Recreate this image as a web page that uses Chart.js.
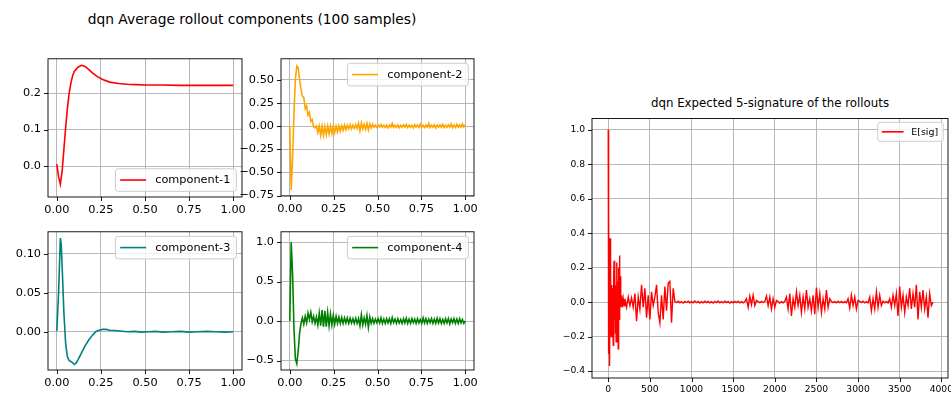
<!DOCTYPE html>
<html>
<head>
<meta charset="utf-8">
<script src="https://cdn.jsdelivr.net/npm/chart.js@4.4.0/dist/chart.umd.min.js"></script>
<style>
  body { margin: 0; background: #fff; width: 951px; height: 394px; position: relative; overflow: hidden; font-family: "DejaVu Sans", sans-serif; }
  canvas { position: absolute; }
  .ttl { position: absolute; text-align: center; color: #000; white-space: nowrap; }
  #suptitle { left: 0; width: 504px; top: 11px; font-size: 13.8px; line-height: 16px; }
  #sigtitle { left: 592px; width: 356px; top: 96px; font-size: 11.8px; line-height: 14px; }
</style>
</head>
<body>
<div id="suptitle" class="ttl">dqn Average rollout components (100 samples)</div>
<div id="sigtitle" class="ttl">dqn Expected 5-signature of the rollouts</div>
<canvas id="c1"></canvas>
<canvas id="c2"></canvas>
<canvas id="c3"></canvas>
<canvas id="c4"></canvas>
<canvas id="c5"></canvas>
<script>
// ---- data ----
const compTicksX = [0, 0.25, 0.5, 0.75, 1.0];

const c1X = [0, 0.01, 0.02, 0.03, 0.04, 0.05, 0.06, 0.07, 0.08, 0.09, 0.10, 0.12, 0.14, 0.16, 0.18, 0.20, 0.23, 0.26, 0.30, 0.35, 0.40, 0.45, 0.50, 0.60, 0.70, 0.80, 0.90, 1.00];
const c1Y = [0.005, -0.03, -0.05, -0.015, 0.045, 0.105, 0.158, 0.2, 0.228, 0.248, 0.26, 0.271, 0.276, 0.273, 0.265, 0.256, 0.245, 0.237, 0.23, 0.226, 0.224, 0.223, 0.222, 0.222, 0.221, 0.221, 0.221, 0.221];

// component-2 and component-4 sampled every 0.008
const c2Y = [
  0, -0.69, -0.35, 0.15, 0.5, 0.65, 0.63, 0.5, 0.4, 0.32,
  0.31, 0.19, 0.22, 0.12, 0.15, 0.05, 0.07, -0.01, -0.02, 0.0,
  -0.07, 0.0, -0.1, 0.0, -0.1, -0.005, -0.09, 0.0, -0.085, 0.0,
  -0.08, 0.005, -0.07, 0.0, -0.065, 0.005, -0.055, 0.005, -0.045, 0.01,
  -0.04, 0.01, -0.03, 0.015, -0.03, 0.01, -0.025, 0.015, -0.025, 0.03,
  -0.05, 0.035, -0.03, 0.02, -0.035, 0.03, -0.04, 0.025, -0.02, 0.02,
  -0.012, 0.01, -0.015, 0.012, -0.01, 0.018, -0.012, 0.01, -0.015, 0.012,
  -0.02, 0.012, -0.01, 0.03, -0.012, 0.01, -0.015, 0.012, -0.018, 0.01,
  -0.012, 0.015, -0.01, 0.02, -0.015, 0.012, -0.012, 0.01, -0.02, 0.015,
  -0.01, 0.012, -0.015, 0.02, -0.012, 0.01, -0.015, 0.012, -0.01, 0.03,
  -0.015, 0.01, -0.012, 0.015, -0.02, 0.012, -0.01, 0.015, -0.012, 0.02,
  -0.015, 0.01, -0.012, 0.015, -0.01, 0.025, -0.015, 0.012, -0.012, 0.02,
  -0.01, 0.015, -0.012, 0.025, -0.008, 0.015
];

const c3X = [0, 0.01, 0.02, 0.025, 0.03, 0.04, 0.05, 0.06, 0.07, 0.08, 0.09, 0.10, 0.11, 0.12, 0.14, 0.16, 0.18, 0.20, 0.22, 0.24, 0.26, 0.28, 0.30, 0.33, 0.36, 0.40, 0.44, 0.48, 0.52, 0.56, 0.60, 0.65, 0.70, 0.75, 0.80, 0.85, 0.90, 0.95, 1.00];
const c3Y = [0.001, 0.05, 0.12, 0.112, 0.085, 0.025, -0.015, -0.032, -0.037, -0.038, -0.04, -0.042, -0.04, -0.036, -0.027, -0.018, -0.011, -0.005, 0.0, 0.002, 0.003, 0.003, 0.002, 0.0015, 0.001, 0.0, 0.0005, -0.0005, 0.0, 0.0005, -0.0005, 0.0, 0.0005, -0.0005, 0.0, 0.0005, 0.0, -0.0005, 0.0];

const c4Y = [
  0, 1.0, 0.6, -0.1, -0.48, -0.54, -0.38, -0.15, -0.03, 0.04,
  -0.04, 0.06, -0.02, 0.1, 0.02, 0.11, -0.01, 0.06, -0.03, 0.05,
  -0.05, 0.1, -0.06, 0.14, -0.07, 0.13, -0.07, 0.11, -0.06, 0.09,
  -0.05, 0.07, -0.04, 0.06, -0.03, 0.05, -0.03, 0.045, -0.03, 0.04,
  -0.025, 0.04, -0.03, 0.035, -0.025, 0.03, -0.03, 0.035, -0.03, 0.03,
  -0.06, 0.08, -0.05, 0.04, -0.04, 0.07, -0.08, 0.05, -0.03, 0.03,
  -0.03, 0.025, -0.02, 0.03, -0.025, 0.04, -0.03, 0.025, -0.03, 0.03,
  -0.025, 0.03, -0.03, 0.045, -0.02, 0.025, -0.03, 0.03, -0.025, 0.02,
  -0.03, 0.03, -0.025, 0.035, -0.03, 0.025, -0.03, 0.03, -0.02, 0.025,
  -0.03, 0.03, -0.025, 0.02, -0.03, 0.04, -0.025, 0.03, -0.03, 0.025,
  -0.02, 0.03, -0.03, 0.025, -0.03, 0.035, -0.025, 0.03, -0.03, 0.02,
  -0.03, 0.03, -0.025, 0.03, -0.035, 0.025, -0.02, 0.03, -0.03, 0.025,
  -0.03, 0.03, -0.025, 0.02, -0.03, 0.0
];

// expected signature: fine samples at the start, then every 20 terms
const sigEarlyX = [0, 3, 6, 10, 14, 18, 22, 26, 30, 35, 40, 45, 50, 55, 60, 65, 70, 75, 80, 85, 90, 95, 100, 105, 110, 115, 120, 125, 130, 135, 140, 145, 150, 160, 170, 180, 190];
const sigEarlyY = [1.0, -0.3, 0.5, -0.12, 0.3, -0.37, 0.37, -0.1, 0.2, -0.2, 0.1, -0.15, 0.08, -0.05, -0.25, 0.15, 0.24, -0.1, 0.2, -0.18, 0.1, -0.23, 0.05, 0.23, -0.15, 0.12, -0.27, 0.2, -0.1, 0.27, -0.05, 0.15, -0.03, 0.04, -0.03, 0.02, -0.02];
const sigLateY = [
  0.02, -0.03, 0.03, -0.02, 0.025, -0.03,
  0.05, -0.11, 0.03, -0.04, 0.1, -0.03, 0.08, -0.09, 0.04, -0.1, 0.06, -0.02, 0.03,
  0.1, -0.06, -0.12, 0.04, -0.1, 0.09, -0.05, 0.11, 0.12, -0.12, 0.08,
  0.004, -0.003, 0.005, -0.004, 0.003, -0.005, 0.004, -0.002, 0.005, -0.004,
  0.003, -0.004, 0.006, -0.003, 0.004, -0.005, 0.003, -0.004, 0.005, -0.003,
  0.004, -0.004, 0.003, -0.005, 0.004, -0.003, 0.006, -0.004, 0.003, -0.004,
  0.005, -0.003, 0.004, -0.005, 0.003, -0.004, 0.004, -0.003, 0.005, -0.004,
  0.003, -0.004, 0.004,
  0.02, -0.03, 0.035, -0.015, 0.04, -0.02, 0.01,
  0.003, -0.003, 0.004, -0.002, 0.003,
  0.035, -0.02, 0.03, -0.04, 0.02, -0.03, 0.01,
  0.004, -0.005, 0.003, -0.004, 0.005,
  0.03, -0.04, 0.05, -0.08, 0.02, -0.03, 0.06, -0.02, 0.04, -0.06,
  0.03, -0.04, 0.07, -0.03, 0.02, -0.05, 0.04, -0.07, 0.085, -0.03,
  0.05, -0.06, 0.02, -0.04, 0.07, -0.03, 0.02,
  0.004, -0.003, 0.003, -0.004, 0.005, -0.003, 0.004, -0.004, 0.003, -0.003,
  0.02, -0.035, 0.04, -0.02, 0.03, -0.04, 0.01,
  0.004, -0.003, 0.005, -0.004, 0.003, -0.004,
  0.03, -0.05, 0.02, -0.04, 0.06, -0.03, 0.04, -0.02,
  0.005, -0.004, 0.004, -0.005,
  0.02, -0.03, 0.04, -0.02, 0.05, -0.08, 0.09, -0.03, 0.04, -0.06,
  0.03, -0.02, 0.08, -0.04, 0.05, -0.03, 0.1, -0.1, 0.06, -0.03,
  0.07, -0.04, 0.03, -0.09, 0.05, -0.02, 0.0
];
const sigTicksX = [0, 500, 1000, 1500, 2000, 2500, 3000, 3500, 4000];
const sigTicksY = [-0.4, -0.2, 0.0, 0.2, 0.4, 0.6, 0.8, 1.0];

// sample positions
const noisyX = c2Y.map((_, i) => +(i * 0.008).toFixed(3));
const sigX = sigEarlyX.concat(sigLateY.map((_, i) => 200 + 20 * i));
const sigY = sigEarlyY.concat(sigLateY);

// ---- drawing ----
const fmt = d => v => (v < 0 ? '\u2212' : '') + Math.abs(v).toFixed(d);

// matplotlib-like frame, outward tick marks and an in-axes legend
const mplFrame = {
  id: 'mplFrame',
  afterDraw(chart, args, o) {
    const { ctx, chartArea: a, scales } = chart;
    ctx.save();
    ctx.strokeStyle = '#000';
    ctx.lineWidth = 0.9;
    ctx.strokeRect(a.left, a.top, a.right - a.left, a.bottom - a.top);
    ctx.beginPath();
    scales.x.ticks.forEach(t => {
      const px = Math.round(scales.x.getPixelForValue(t.value)) + 0.5;
      ctx.moveTo(px, a.bottom); ctx.lineTo(px, a.bottom + 4);
    });
    scales.y.ticks.forEach(t => {
      const py = Math.round(scales.y.getPixelForValue(t.value)) + 0.5;
      ctx.moveTo(a.left, py); ctx.lineTo(a.left - 4, py);
    });
    ctx.stroke();

    const ds = chart.data.datasets[0];
    const f = o.fs;
    ctx.font = f + 'px "DejaVu Sans"';
    const tw = ctx.measureText(ds.label).width;
    const bw = 0.42 * f + 2.3 * f + 0.8 * f + tw + 0.53 * f;
    const bh = 2.0 * f;
    const bx = a.right - 0.5 * f - bw;
    const by = o.loc === 'lower' ? a.bottom - 0.5 * f - bh : a.top + 0.4 * f;
    ctx.beginPath();
    ctx.roundRect(bx, by, bw, bh, 0.25 * f);
    ctx.fillStyle = 'rgba(255,255,255,0.8)';
    ctx.fill();
    ctx.strokeStyle = '#cccccc';
    ctx.lineWidth = 1;
    ctx.stroke();
    const my = by + bh / 2;
    ctx.beginPath();
    ctx.moveTo(bx + 0.42 * f, my);
    ctx.lineTo(bx + 2.72 * f, my);
    ctx.strokeStyle = ds.borderColor;
    ctx.lineWidth = 1.6;
    ctx.stroke();
    ctx.fillStyle = '#000';
    ctx.textBaseline = 'middle';
    ctx.fillText(ds.label, bx + 3.52 * f, my + 0.5);
    ctx.restore();
  }
};

function panel(id, box, cfg) {
  const PT = 8, PR = 14;
  const cv = document.getElementById(id);
  const L = box.l - cfg.yw, T = box.t - PT;
  const W = box.r - L + PR, H = box.b - T + cfg.xh;
  cv.width = W; cv.height = H;
  cv.style.left = L + 'px'; cv.style.top = T + 'px';
  cv.style.width = W + 'px'; cv.style.height = H + 'px';
  const tickFont = { family: 'DejaVu Sans', size: cfg.fs };
  const grid = { color: '#b0b0b0', lineWidth: 0.9, drawTicks: false };
  new Chart(cv, {
    type: 'line',
    data: {
      datasets: [{
        label: cfg.label,
        data: cfg.xs.map((x, i) => ({ x: x, y: cfg.ys[i] })),
        borderColor: cfg.color,
        borderWidth: cfg.lw || 1.6,
        pointRadius: 0,
        tension: 0,
        fill: false
      }]
    },
    options: {
      responsive: false,
      animation: false,
      layout: { padding: { top: PT, right: PR, left: 0, bottom: 0 } },
      plugins: {
        legend: { display: false },
        tooltip: { enabled: false },
        mplFrame: { fs: cfg.lfs, loc: cfg.loc }
      },
      scales: {
        x: {
          type: 'linear', min: cfg.xr[0], max: cfg.xr[1],
          grid: grid, border: { display: false },
          afterBuildTicks: s => { s.ticks = cfg.xt.map(v => ({ value: v })); },
          afterFit: s => { s.height = cfg.xh; },
          ticks: { padding: 6, color: '#000', font: tickFont, maxRotation: 0, autoSkip: false, callback: fmt(cfg.xd) }
        },
        y: {
          type: 'linear', min: cfg.yr[0], max: cfg.yr[1],
          grid: grid, border: { display: false },
          afterBuildTicks: s => { s.ticks = cfg.yt.map(v => ({ value: v })); },
          afterFit: s => { s.width = cfg.yw; },
          ticks: { padding: 7, color: '#000', font: tickFont, autoSkip: false, callback: fmt(cfg.yd) }
        }
      }
    },
    plugins: [mplFrame]
  });
}

const small = { yw: 48, xh: 24, fs: 11.3, lfs: 11.3, xt: compTicksX, xd: 2, xr: [-0.05, 1.05] };

panel('c1', { l: 48, t: 53, r: 242, b: 197 }, Object.assign({}, small, {
  label: 'component-1', color: '#ff0000', xs: c1X, ys: c1Y, loc: 'lower',
  yr: [-0.085, 0.294], yt: [0.0, 0.1, 0.2], yd: 1
}));
panel('c2', { l: 281, t: 53, r: 474, b: 196 }, Object.assign({}, small, {
  yw: 44, label: 'component-2', color: '#ffa500', xs: noisyX, ys: c2Y, loc: 'upper',
  yr: [-0.755, 0.728], yt: [-0.75, -0.5, -0.25, 0.0, 0.25, 0.5], yd: 2
}));
panel('c3', { l: 48, t: 226, r: 242, b: 370 }, Object.assign({}, small, {
  label: 'component-3', color: '#008080', xs: c3X, ys: c3Y, loc: 'upper',
  yr: [-0.049, 0.128], yt: [0.0, 0.05, 0.1], yd: 2
}));
panel('c4', { l: 281, t: 226, r: 474, b: 370 }, Object.assign({}, small, {
  yw: 44, label: 'component-4', color: '#008000', xs: noisyX, ys: c4Y, loc: 'upper',
  yr: [-0.62, 1.13], yt: [-0.5, 0.0, 0.5, 1.0], yd: 1
}));
panel('c5', { l: 592, t: 114, r: 948, b: 378 }, {
  yw: 45, xh: 20, fs: 9.2, lfs: 9.5, label: 'E[sig]', color: '#ff0000', lw: 1.4,
  xs: sigX, ys: sigY, loc: 'upper',
  xr: [-195, 4080], xt: sigTicksX, xd: 0,
  yr: [-0.44, 1.065], yt: sigTicksY, yd: 1
});
</script>
</body>
</html>
